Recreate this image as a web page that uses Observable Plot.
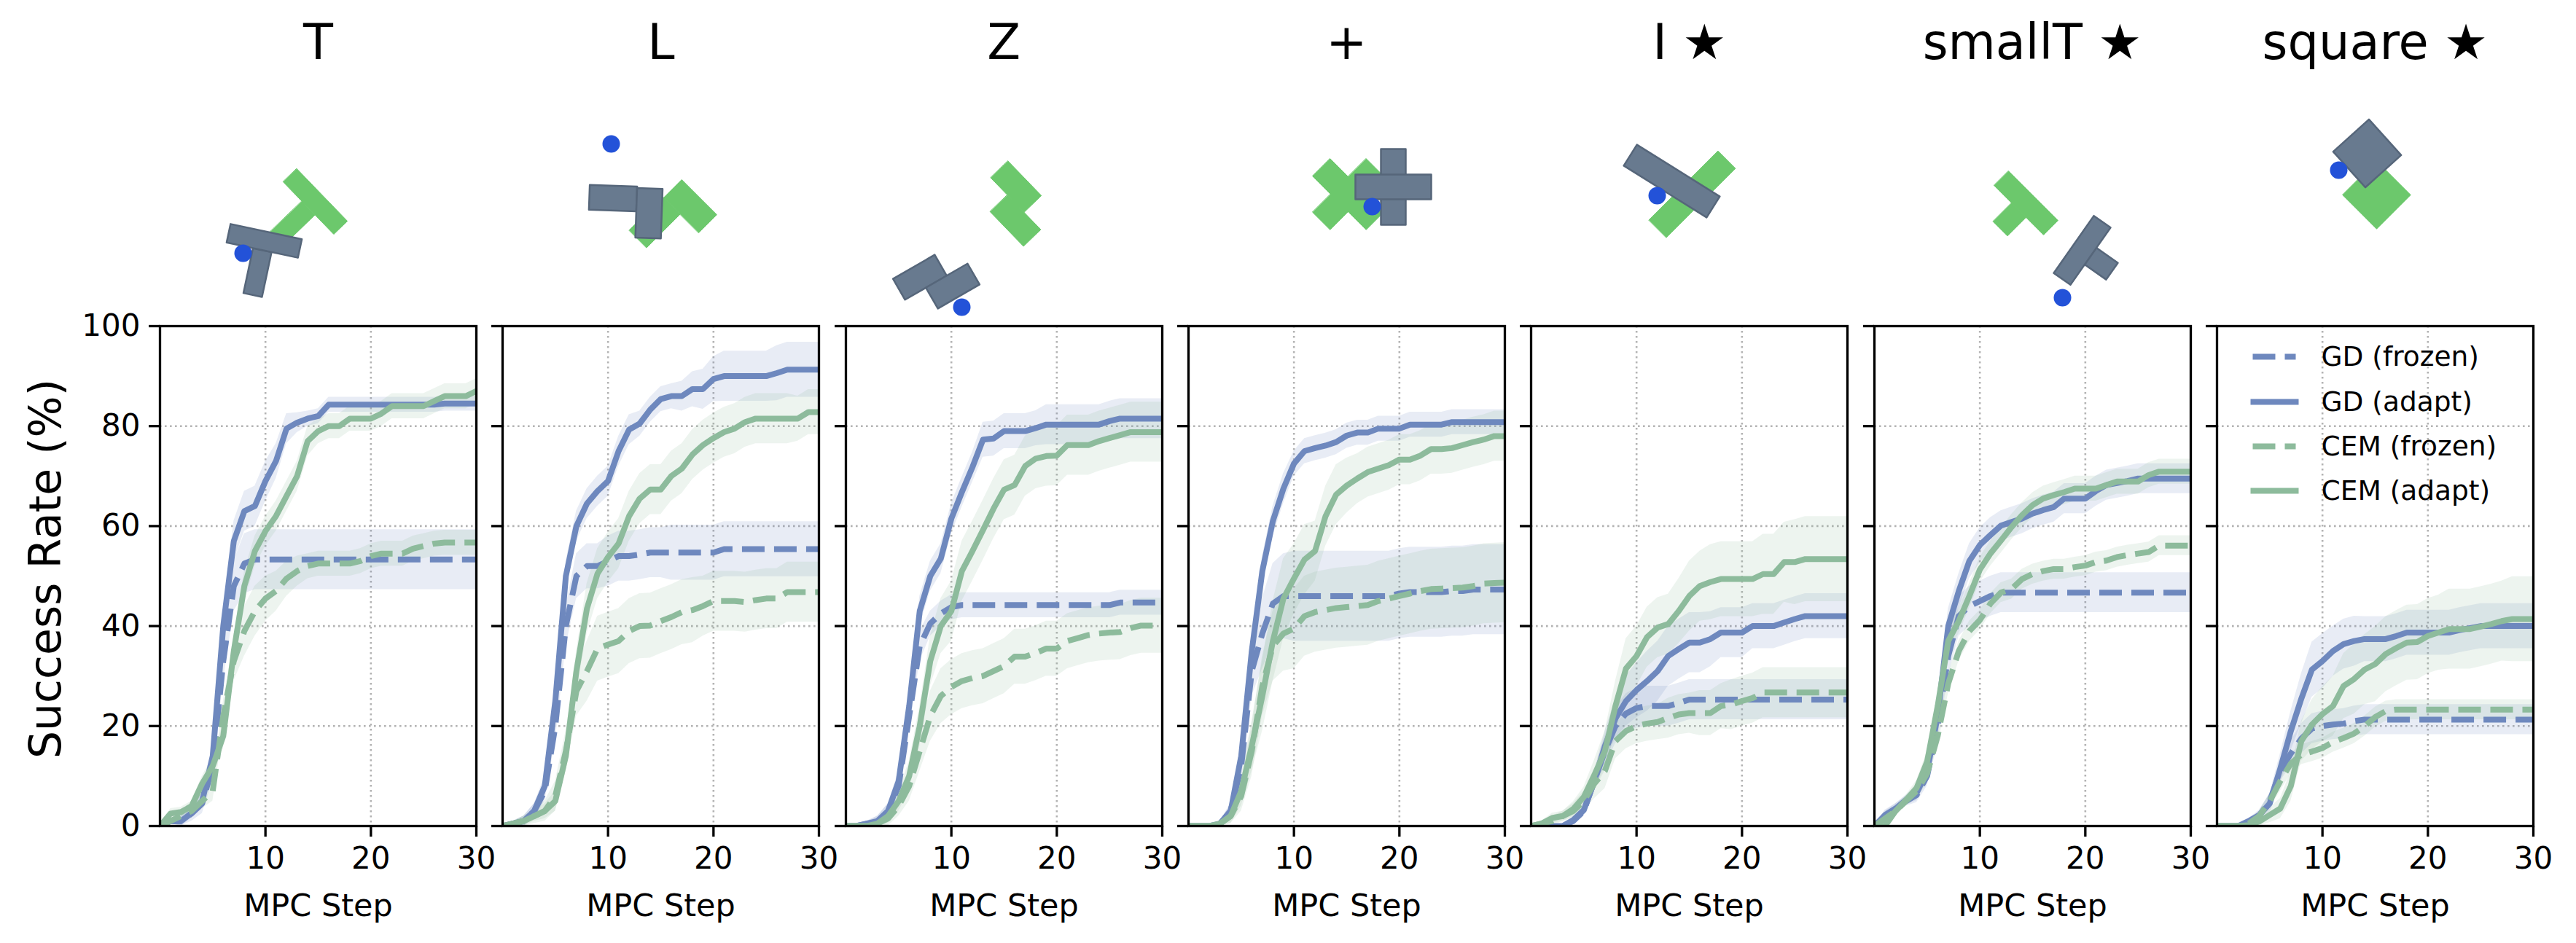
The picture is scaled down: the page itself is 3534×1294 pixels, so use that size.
<!DOCTYPE html>
<html><head><meta charset="utf-8">
<script src="https://cdn.jsdelivr.net/npm/d3@7"></script>
<script src="https://cdn.jsdelivr.net/npm/@observablehq/plot@0.6"></script>
<style>
html,body{margin:0;padding:0;background:#fff;}
#fig{position:relative;width:3534px;height:1294px;overflow:hidden;background:#fff;font-family:"DejaVu Sans";}
#fig > div{position:absolute;}
</style></head><body><div id="fig"></div>
<script>
// ---------------- data ----------------
const mpcSteps = [0,1,2,3,4,5,6,7,8,9,10,11,12,13,14,15,16,17,18,19,20,21,22,23,24,25,26,27,28,29,30];
const panelTitles = ["T","L","Z","+","I ★","smallT ★","square ★"];
const shapeKinds = ["T","L","Z","+","I","smallT","square"];
const yTicks = [0,20,40,60,80,100];
const xTicks = [10,20,30];
const seriesLabels = ["GD (frozen)","GD (adapt)","CEM (frozen)","CEM (adapt)"];

// Panel T
const gdFrozenT = [0,1,1,2.5,4.5,12,33,48,52.5,53.3,53.3,53.3,53.3,53.3,53.3,53.3,53.3,53.3,53.3,53.3,53.3,53.3,53.3,53.3,53.3,53.3,53.3,53.3,53.3,53.3,53.3];
const gdAdaptT = [0,1,1,2.6,5,14,40,57,63,64,69,73,79.5,80.7,81.5,82,84.3,84.3,84.3,84.3,84.3,84.3,84.3,84.3,84.3,84.3,84.3,84.5,84.5,84.5,84.5];
const cemFrozenT = [0,1,2,3,5,7,22,33,39,43,45.5,47,49.5,51,52,52.5,52.5,52.5,52.5,53,54,54.5,54.5,54.5,55.5,56,56.5,56.7,56.7,56.7,56.7];
const cemAdaptT = [0,2.5,2.8,4,8.5,12,18,35,48,55,59,62,66,70,77,79,80,80,81.5,81.5,81.5,82.5,84,84,84,84,85,86,86,86,87];
const bandGdFrozenT = [0,0.5,1,1.5,2,3,4,5,6,6,6,6,6,6,6,6,6,6,6,6,6,6,6,6,6,6,6,6,6,6,6];
const bandGdAdaptT = [0,0.5,1,1,1.5,2,3,4,4,4,4,3.5,3,2,1.5,1.5,1.5,1.5,1.5,1.5,1.5,1.5,1.5,1.5,1.5,1.5,1.5,1.5,1.5,1.5,1.5];
const bandCemFrozenT = [0,0.5,1,1,1.5,2,3,4,5,5,4.5,4,3.5,3,2.5,2.5,2.5,2.5,2.5,2.5,2.5,2.5,2.5,2.5,2.5,2.5,2.5,2.5,2.5,2.5,2.5];
const bandCemAdaptT = [0,1,1,1,1.5,2,2.5,3,3,3,3,3,3,3,3,2.5,2.5,2.5,2.5,2.5,2.5,2.5,2.5,2.5,2.5,2.5,2.5,2.5,2.5,2.5,2.5];

// Panel L
const gdFrozenL = [0,0.5,1,3,7,20,40,50,52,52,53,54,54,54.3,54.7,54.7,54.7,54.7,54.7,54.7,54.7,55.4,55.4,55.4,55.4,55.4,55.4,55.4,55.4,55.4,55.4];
const gdAdaptL = [0,0.5,1,3,8,25,50,60,64.5,67,69,75,79.3,80.5,83.3,85.4,86,86,87.4,87.4,89.4,90,90,90,90,90,90.6,91.3,91.3,91.3,91.3];
const cemFrozenL = [0,0.5,1,2,3,6,15,27,31,35.5,36.3,37,39,40,40.1,41,41.8,42.8,43.2,44,45,45,45,44.8,45.2,45.5,45.5,46.8,46.8,46.8,46.8];
const cemAdaptL = [0,0.5,1,2,3,5,14,31,43.5,50.5,53.8,56.5,62,65.5,67.3,67.3,70,71.5,74.3,76.2,77.6,78.8,79.5,80.8,81.5,81.5,81.5,81.5,81.5,82.8,82.8];
const bandGdFrozenL = [0,0.5,1,1.5,2,3,4,4.5,4.5,4.5,5,5,5,5,5,5,5.5,5.5,5.5,5.5,5.5,5.5,5.5,5.5,5.5,5.5,5.5,5.5,5.5,5.5,5.5];
const bandGdAdaptL = [0,0.5,1,1.5,2,3,3,3,3,3,3,3,3,2.5,2.5,2.5,2.5,3,3.5,4,4.5,5,5,5,5,5,5.5,5.5,5.5,5.5,5.5];
const bandCemFrozenL = [0,0.5,1,1.5,2,3,4,5,6,6.5,6.5,6.5,6.5,6.5,6.5,6.5,6.5,6.5,6.5,6,6,6,6,6,6,6,6,6,6,6,6];
const bandCemAdaptL = [0,0.5,1,1,1.5,2,3,4,5,5,5,5,5,5,5,5,5,5,5,5,5,5,5,5,5,5,5,5,4.5,4.5,4.5];

// Panel Z
const gdFrozenZ = [0,0,0.5,1,3,8,22,36,40.5,42.5,43.8,44.2,44.2,44.2,44.2,44.2,44.2,44.2,44.2,44.2,44.2,44.2,44.2,44.2,44.2,44.2,44.7,44.7,44.7,44.7,44.7];
const gdAdaptZ = [0,0,0.5,1,3,9,24,43,50,53.5,61.5,66.8,71.8,77.3,77.5,79,79,79,79.6,80.3,80.3,80.3,80.3,80.3,80.3,81,81.5,81.5,81.5,81.5,81.5];
const cemFrozenZ = [0,0,0,0.5,1.5,4,8,15,22,26,27.8,29,29.6,30,31,32,33.9,33.9,34.6,35.5,35.5,37,37.6,38.2,38.5,38.7,38.8,39.6,40.1,40.1,40.1];
const cemAdaptZ = [0,0,0,0.5,2,5,10,20,33,40,43,51,55,59.2,63.5,67.3,68.2,72,73.5,74,74.1,76.2,76.2,76.2,77,77.6,78.2,78.8,78.8,78.8,78.8];
const bandGdFrozenZ = [0,0,0.5,1,1.5,2,3,3,2.5,2.5,2.5,2.5,2.5,2.5,2.5,2.5,2.5,2.5,2.5,2.5,2.5,2.5,2.5,2.5,2.5,2.5,2.5,2.5,2.5,2.5,2.5];
const bandGdAdaptZ = [0,0,0.5,1,1.5,2,3,3,3,3,3,3,3,3.5,3.5,3.5,3.5,3.5,3.5,4,4,4,4,4,4,4,4,4,4,4,4];
const bandCemFrozenZ = [0,0,0.5,1,1.5,2,3,4,5,5.5,5.5,5.5,5.5,5.5,5.5,5.5,5.5,5.5,5.5,5.5,5.5,5.5,5.5,5.5,5.5,5.5,5.5,5.5,5.5,5.5,5.5];
const bandCemAdaptZ = [0,0,0.5,1,1.5,2,3,4,5,5.5,6,6,6,6,6,6,6,6,6,6,6,6,6,6,6,6,6,6,6,6,6];

// Panel +
const gdFrozenPlus = [0,0,0,0.5,3,12,31,38.5,44.5,46,46,46,46,46,46,46,46,46,46,46,46.5,46.8,46.8,46.8,46.8,47,47,47.3,47.3,47.3,47.3];
const gdAdaptPlus = [0,0,0,0.5,3,14,35,51,61,67.5,72.5,75,75.6,76.1,76.8,78.1,78.7,78.7,79.5,79.5,79.5,80.3,80.3,80.3,80.3,80.8,80.8,80.8,80.8,80.8,80.8];
const cemFrozenPlus = [0,0,0,0.5,2,6,15,28,36,38.5,39.5,42,42.8,43.2,43.6,43.8,44,44.2,45,45.5,46,46.5,47,47.4,47.5,47.6,47.7,48,48.5,48.6,48.7];
const cemAdaptPlus = [0,0,0,0.5,2,7,16,26,37,45.5,49.5,53.3,55,62,66.3,68.1,69.5,70.8,71.5,72.2,73.3,73.3,74.1,75.4,75.4,75.6,76.2,76.8,77.3,78,78];
const bandGdFrozenPlus = [0,0,0,0.5,1.5,3,5,7,8,8.5,9,9,9,9,9,9,9,9,9,9,9,9,9,9,9,9,9,9,9,9,9];
const bandGdAdaptPlus = [0,0,0,0.5,1.5,3,3,3,3,3,2.5,2.5,2.5,2.5,2.5,2.5,2.5,2.5,2.5,2.5,2.5,2.5,2.5,2.5,2.5,2.5,2.5,2.5,2.5,2.5,2.5];
const bandCemFrozenPlus = [0,0,0,0.5,1.5,3,5,6,7,7.5,8,8,8,8,8,8,8,8,8,8,8,8,8,8,8,8,8,8,8,8,8];
const bandCemAdaptPlus = [0,0,0,0.5,1.5,3,5,7,8,8,7,7,6,6,6,5.5,5,5,5,5,5,5,5,5,5,5,5,5,5,5,5];

// Panel I
const gdFrozenI = [0,0,0,0,1,3,9,15,20,22.5,23.6,24,24,24,24.6,25.3,25.3,25.3,25.3,25.3,25.3,25.3,25.3,25.3,25.3,25.3,25.3,25.3,25.3,25.3,25.3];
const gdAdaptI = [0,0,0,0,1.2,3.2,9,16,21.5,25,27.2,29,31,34,35.4,36.7,36.7,37.4,38.7,38.7,38.7,40,40,40,40.7,41.4,42,42,42,42,42];
const cemFrozenI = [0,0.5,1,2,3,5,8.5,11,17,19,20,20.5,20.8,21.6,22.3,22.6,22.6,22.6,24,24.3,25,25.6,26.7,26.7,26.7,26.7,26.7,26.7,26.7,26.7,26.7];
const cemAdaptI = [0,0.5,1.6,2,3.4,5.8,10.2,15,24,31.5,34,37.8,39.7,40.4,43,46,48,48.8,49.4,49.4,49.4,49.4,50.4,50.4,52.8,52.8,53.4,53.4,53.4,53.4,53.4];
const bandGdFrozenI = [0,0,0,0,0.5,1,2,3,3.5,4,4,4,4,4,4,4,4,4,4,4,4,4,4,4,4,4,4,4,4,4,4];
const bandGdAdaptI = [0,0,0,0,0.5,1,2,3,4,5,5.5,6,6,6,6,6,6,5.5,5,5,5,4.5,4.5,4.5,4.5,4.5,4.5,4.5,4.5,4.5,4.5];
const bandCemFrozenI = [0,0.5,1,1,1.5,2,3,3.5,3.5,3.5,3.5,3.5,3.5,4,4,4,4.5,4.5,4.5,5,5,5,5,5,5,5,5,5,5,5,5];
const bandCemAdaptI = [0,0.5,1,1,1.5,2,3,4,5,6,6,6,6,6,6.5,7,7,7.5,7.5,7.5,7.5,7.5,8,8,8,8.5,8.5,8.5,8.5,8.5,8.5];

// Panel smallT
const gdFrozenSmallT = [0,2,3.5,5,6.2,10,20,34,42,44,45,46,46.7,46.7,46.7,46.7,46.7,46.7,46.7,46.7,46.7,46.7,46.7,46.7,46.7,46.7,46.7,46.7,46.7,46.7,46.7];
const gdAdaptSmallT = [0,2.2,3.5,5.2,6.6,11,22,40,47,53,56.2,58.2,60.1,60.8,61.5,62.5,63.2,63.8,65.5,65.5,65.5,67,68.2,68.6,69,69.5,69.5,69.5,69.5,69.5,69.5];
const cemFrozenSmallT = [0,1.5,3,5,7,10.5,18,28.5,35,39,41.2,44.5,46.7,47.4,49.4,50.4,51,51.4,51.4,51.8,52.1,52.8,53.1,53.8,54.2,54.5,54.8,56.1,56.1,56.1,56.1];
const cemAdaptSmallT = [0,0,3,5.2,7.6,12.9,24,37,41,46,51.3,54.5,57.1,59.8,62.2,64.2,65.5,66.2,66.8,67.5,67.5,67.5,68.2,68.9,68.9,68.9,70.2,70.9,70.9,70.9,70.9];
const bandGdFrozenSmallT = [0,1,1,1,1.5,2,3,4,4,4,4,4,4,4,4,4,4,4,4,4,4,4,4,4,4,4,4,4,4,4,4];
const bandGdAdaptSmallT = [0,1,1,1,1.5,2,3,3.5,3.5,3.5,3.5,3.5,3,3,3,3,3,3,3,3,3,3,3,3,3,3,3,3,3,3,3];
const bandCemFrozenSmallT = [0,0.5,1,1,1.5,2,2,2,2,2,2,2,2,2,2,2,2,2,2,2,2,2,2,2,2,2,2,2,2,2,2];
const bandCemAdaptSmallT = [0,0.5,1,1,1.5,2,2.5,2.5,2.5,2.5,2.5,2.5,2.5,2.5,2.5,2.5,2.5,2.5,2.5,2.5,2.5,2.5,2.5,2.5,2.5,2.5,2.5,2.5,2.5,2.5,2.5];

// Panel square
const gdFrozenSquare = [0,0,0,0.5,2,5,11,14.5,17.5,19.5,20,20.3,20.5,21,21.3,21.3,21.3,21.3,21.3,21.3,21.3,21.3,21.3,21.3,21.3,21.3,21.3,21.3,21.3,21.3,21.3];
const gdAdaptSquare = [0,0,0,1,2.2,4.5,11.5,19,25.5,31.3,33,35,36.4,37,37.4,37.4,37.4,38,38.7,38.7,38.7,38.7,38.7,39.2,39.6,40,40,40,40,40,40];
const cemFrozenSquare = [0,0,0,0.5,2,5,9,12.5,14.3,14.9,15.6,16.8,17.6,18.5,20,21.8,23,23.3,23.3,23.3,23.3,23.3,23.3,23.3,23.3,23.3,23.3,23.3,23.3,23.3,23.3];
const cemAdaptSquare = [0,0,0,0.2,0.9,2.2,3.5,8,17,20.3,22.4,24,28,29.4,31.3,32.4,34.4,35.6,36.7,36.8,38,38.7,39.4,39.4,39.4,39.9,40.4,41,41.4,41.4,41.4];
const bandGdFrozenSquare = [0,0,0,0.5,1,1.5,2,2.5,3,3,3,3,3,3,3,3,3,3,3,3,3,3,3,3,3,3,3,3,3,3,3];
const bandGdAdaptSquare = [0,0,0,0.5,1,2,3,4,5,5.5,5.5,5,5,5,4.5,4.5,4.5,4.5,4.5,4.5,4.5,4.5,4.5,4.5,4.5,4.5,4.5,4.5,4.5,4.5,4.5];
const bandCemFrozenSquare = [0,0,0,0.5,1,1.5,2,2,2,2,2,2,2,2,2,2,2,2,2,2,2,2,2,2,2,2,2,2,2,2,2];
const bandCemAdaptSquare = [0,0,0,0.5,1,1.5,2,3,4,5,5.5,6,6.5,7,7,7.5,7.5,7.5,7.5,7.5,7.5,7.5,8,8,8,8,8,8,8.5,8.5,8.5];

// Header illustrations: goal (green), object (gray) poses [cx, cy, angleDeg] and agent position
const goalPose = [[432,276,46],[910,292,-45],[1393,279,46],[1849,266,45],[2321,266,-45],[2779,278,45],[3260,267,45]];
const objectPose = [[362,330,12],[858,272,2],[1284,386,-30],[1911,256,0],[2293,248,32],[2856,343,-55],[3247,210,48]];
const agentPos = [[333,347],[838,197],[1319,421],[1882,283],[2273,268],[2829,408],[3208,233]];
const shapeRects = {
  "T": [[-13,13,13,76],[-50,-13,50,13]],
  "L": [[-50,-17,15,17],[15,-15,50,53]],
  "Z": [[-49.5,-33,16.5,0],[-16.5,0,49.5,33]],
  "+": [[-17,-52,17,52],[-52,-17,52,17]],
  "I": [[-67,-17,67,17]],
  "smallT": [[-14,14,14,50],[-48,-14,48,14]],
  "square": [[-33,-33,33,33]]
};

// ---------------- layout & style ----------------
const BLUE = "#6e88be", GREEN = "#8dbb9c";
const L0 = 219, STEP = 470.3, W = 434, TOP = 447, H = 686;
const FONT = "'DejaVu Sans', sans-serif";
const seriesDefs = [
  {key: "gdF", color: BLUE, dash: "31,13"},
  {key: "gdA", color: BLUE, dash: null},
  {key: "cemF", color: GREEN, dash: "31,13"},
  {key: "cemA", color: GREEN, dash: null}
];
const panels = [
  {gdF: gdFrozenT, gdA: gdAdaptT, cemF: cemFrozenT, cemA: cemAdaptT, band: {gdF: bandGdFrozenT, gdA: bandGdAdaptT, cemF: bandCemFrozenT, cemA: bandCemAdaptT}},
  {gdF: gdFrozenL, gdA: gdAdaptL, cemF: cemFrozenL, cemA: cemAdaptL, band: {gdF: bandGdFrozenL, gdA: bandGdAdaptL, cemF: bandCemFrozenL, cemA: bandCemAdaptL}},
  {gdF: gdFrozenZ, gdA: gdAdaptZ, cemF: cemFrozenZ, cemA: cemAdaptZ, band: {gdF: bandGdFrozenZ, gdA: bandGdAdaptZ, cemF: bandCemFrozenZ, cemA: bandCemAdaptZ}},
  {gdF: gdFrozenPlus, gdA: gdAdaptPlus, cemF: cemFrozenPlus, cemA: cemAdaptPlus, band: {gdF: bandGdFrozenPlus, gdA: bandGdAdaptPlus, cemF: bandCemFrozenPlus, cemA: bandCemAdaptPlus}},
  {gdF: gdFrozenI, gdA: gdAdaptI, cemF: cemFrozenI, cemA: cemAdaptI, band: {gdF: bandGdFrozenI, gdA: bandGdAdaptI, cemF: bandCemFrozenI, cemA: bandCemAdaptI}},
  {gdF: gdFrozenSmallT, gdA: gdAdaptSmallT, cemF: cemFrozenSmallT, cemA: cemAdaptSmallT, band: {gdF: bandGdFrozenSmallT, gdA: bandGdAdaptSmallT, cemF: bandCemFrozenSmallT, cemA: bandCemAdaptSmallT}},
  {gdF: gdFrozenSquare, gdA: gdAdaptSquare, cemF: cemFrozenSquare, cemA: cemAdaptSquare, band: {gdF: bandGdFrozenSquare, gdA: bandGdAdaptSquare, cemF: bandCemFrozenSquare, cemA: bandCemAdaptSquare}}
];

const fig = document.getElementById("fig");
function place(node, left, top) {
  const div = document.createElement("div");
  div.style.left = left + "px";
  div.style.top = top + "px";
  div.appendChild(node);
  fig.appendChild(div);
  return div;
}
const svgStyle = {fontFamily: FONT, color: "black", overflow: "visible", maxWidth: "none", background: "transparent"};

panels.forEach((p, i) => {
  const first = i === 0;
  const ML = first ? L0 : 30, MR = 12, MT = 10, MB = 150;
  const rows = mpcSteps.map((s, j) => {
    const r = {step: s};
    for (const d of seriesDefs) {
      const v = p[d.key][j], hw = p.band[d.key][j];
      r[d.key] = v;
      r[d.key + "Lo"] = Math.max(0, v - hw);
      r[d.key + "Hi"] = Math.min(100, v + hw);
    }
    return r;
  });
  const marks = [
    Plot.gridX({ticks: [10, 20], stroke: "#b3b3b3", strokeOpacity: 1, strokeWidth: 2.6, strokeDasharray: "2.6,4.4"}),
    Plot.gridY({ticks: [20, 40, 60, 80], stroke: "#b3b3b3", strokeOpacity: 1, strokeWidth: 2.6, strokeDasharray: "2.6,4.4"}),
    ...seriesDefs.map(d => Plot.areaY(rows, {x: "step", y1: d.key + "Lo", y2: d.key + "Hi", fill: d.color, fillOpacity: 0.16, clip: true})),
    ...seriesDefs.map(d => Plot.lineY(rows, {
      x: "step", y: d.key, stroke: d.color, strokeWidth: 8,
      strokeDasharray: d.dash || undefined,
      strokeLinecap: d.dash ? "butt" : "square", strokeLinejoin: "round", clip: true
    })),
    Plot.frame({stroke: "black", strokeWidth: 3.3}),
    Plot.axisX({ticks: xTicks, tickSize: 15, tickPadding: 14, fontSize: 42, strokeWidth: 3.3, label: null, tickFormat: d => String(d)}),
    Plot.axisY({ticks: yTicks, tickSize: 15, tickPadding: 12, fontSize: 42, strokeWidth: 3.3, label: null, tickFormat: first ? (d => String(d)) : (() => "")}),
    Plot.text(["MPC Step"], {text: d => d, frameAnchor: "bottom", textAnchor: "middle", lineAnchor: "middle", dy: 110, fontSize: 43})
  ];
  if (first) marks.push(Plot.text(["Success Rate (%)"], {text: d => d, frameAnchor: "left", textAnchor: "middle", lineAnchor: "middle", rotate: -90, dx: -156, dy: -10, fontSize: 60}));
  const svg = Plot.plot({
    width: ML + W + MR, height: MT + H + MB,
    marginLeft: ML, marginRight: MR, marginTop: MT, marginBottom: MB,
    x: {domain: [0, 30]}, y: {domain: [0, 100]},
    style: svgStyle,
    marks
  });
  place(svg, L0 + i * STEP - ML, TOP - MT);
});

// ---------------- overlay: titles, illustrations, legend ----------------
function polygons(poses) {
  return poses.flatMap(([cx, cy, deg], i) => {
    const t = deg * Math.PI / 180, c = Math.cos(t), s = Math.sin(t);
    return shapeRects[shapeKinds[i]].flatMap(([x0, y0, x1, y1], r) =>
      [[x0, y0], [x1, y0], [x1, y1], [x0, y1]].map(([lx, ly]) => ({
        id: i + "-" + r, x: cx + lx * c - ly * s, y: cy + lx * s + ly * c
      })));
  });
}
const goalPolys = polygons(goalPose);
const objectPolys = polygons(objectPose);
const agents = agentPos.map(([x, y]) => ({x, y}));

const legendRowY = [489, 551, 612, 673];
const legendMarks = seriesDefs.flatMap((d, k) => [
  Plot.line([{x: d.dash ? 3090 : 3091, y: legendRowY[k]}, {x: 3149, y: legendRowY[k]}], {
    x: "x", y: "y", stroke: d.color, strokeWidth: 8,
    strokeDasharray: d.dash || undefined, strokeLinecap: d.dash ? "butt" : "square"
  }),
  Plot.text([seriesLabels[k]], {text: d => d, x: 3184, y: legendRowY[k], textAnchor: "start", fontSize: 37.5})
]);

const overlay = Plot.plot({
  width: 3534, height: 1294, margin: 0,
  x: {type: "identity", axis: null}, y: {type: "identity", axis: null},
  style: svgStyle,
  marks: [
    Plot.text(panelTitles, {text: d => d, x: (d, i) => L0 + i * STEP + W / 2, y: 59, fontSize: 67}),
    Plot.line(goalPolys, {x: "x", y: "y", z: "id", curve: "linear-closed", fill: "#6cc86c", stroke: "#6cc86c", strokeWidth: 1}),
    Plot.line(objectPolys, {x: "x", y: "y", z: "id", curve: "linear-closed", fill: "#687a8f", stroke: "#56667a", strokeWidth: 2.5}),
    Plot.dot(agents, {x: "x", y: "y", r: 12, fill: "#2352d8", stroke: null}),
    ...legendMarks
  ]
});
const ov = place(overlay, 0, 0);
ov.style.pointerEvents = "none";
</script>
</body></html>
